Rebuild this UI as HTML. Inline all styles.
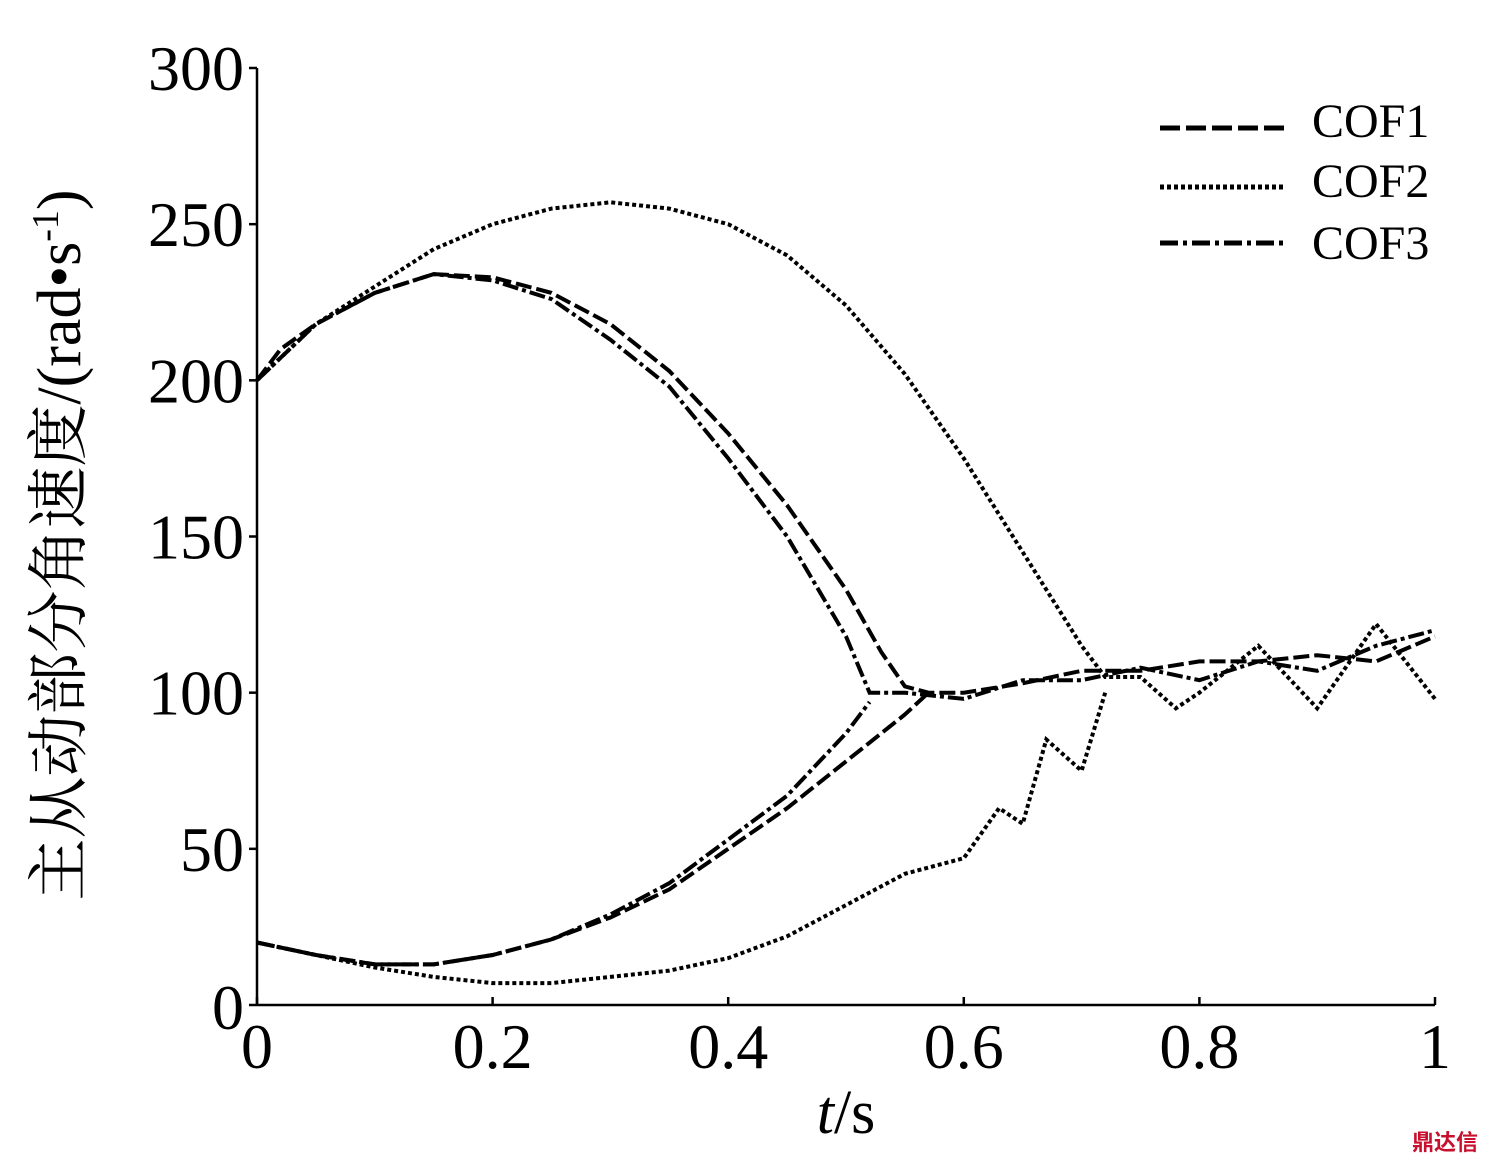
<!DOCTYPE html>
<html><head><meta charset="utf-8"><style>
body{margin:0;background:#fff;}
svg{display:block;}
text{font-family:"Liberation Serif","Noto Serif CJK SC",serif;fill:#000;}
</style></head><body>
<svg id="chart" width="1488" height="1165" viewBox="0 0 1488 1165">
<g id="axes"></g>
<g id="series"></g>
<text x="80" y="545" font-size="62" text-anchor="middle" transform="rotate(-90 80 545)">主从动部分角速度/(rad•s<tspan dy="-22" font-size="38">-1</tspan><tspan dy="22">)</tspan></text>
<text x="846" y="1133" font-size="62" text-anchor="middle"><tspan font-style="italic">t</tspan>/s</text>
<g>
<line x1="1160" y1="128" x2="1285" y2="128" stroke="#000" stroke-width="5" stroke-dasharray="20,6"/>
<text x="1312" y="137" font-size="48">COF1</text>
<line x1="1160" y1="187" x2="1285" y2="187" stroke="#000" stroke-width="5" stroke-dasharray="4,3"/>
<text x="1312" y="197" font-size="48">COF2</text>
<line x1="1160" y1="243" x2="1285" y2="243" stroke="#000" stroke-width="5" stroke-dasharray="18,5,4,5"/>
<text x="1312" y="259" font-size="48">COF3</text>
</g>
<text x="1478" y="1150" font-size="22" text-anchor="end" style="fill:#c8102e;font-weight:bold;font-family:'Noto Sans CJK SC',sans-serif">鼎达信</text>
</svg>
<script>
const xTicks=[0,0.2,0.4,0.6,0.8,1];
const xTickLabels=["0","0.2","0.4","0.6","0.8","1"];
const yTicks=[0,50,100,150,200,250,300];
const yTickLabels=["0","50","100","150","200","250","300"];
const cof1T=[0,.02,.05,.1,.15,.2,.25,.3,.35,.4,.45,.5,.53,.55,.57,.6,.65,.7,.75,.8,.85,.9,.95,1];
const cof1Up=[200,210,218,228,234,233,228,218,203,183,160,133,113,102,100,100,103,107,107,110,110,112,110,118];
const cof1LowT=[0,.05,.1,.15,.2,.25,.3,.35,.4,.45,.5,.55,.57];
const cof1Low=[20,16,13,13,16,21,28,37,50,63,78,93,100];
const cof2T=[0,.05,.1,.15,.2,.25,.3,.35,.4,.45,.5,.55,.6,.65,.7,.72,.75,.78,.8,.85,.9,.95,1];
const cof2Up=[200,218,230,242,250,255,257,255,250,240,224,202,175,145,115,105,105,95,100,115,95,122,98];
const cof2LowT=[0,.05,.1,.15,.2,.25,.3,.35,.4,.45,.5,.55,.6,.63,.65,.67,.7,.72];
const cof2Low=[20,16,12,9,7,7,9,11,15,22,32,42,47,63,58,85,75,100];
const cof3T=[0,.05,.1,.15,.2,.25,.3,.35,.4,.45,.5,.52,.55,.6,.65,.7,.75,.8,.85,.9,.95,1];
const cof3Up=[200,218,228,234,232,226,213,198,175,150,118,100,100,98,104,104,108,104,110,107,115,120];
const cof3LowT=[0,.05,.1,.15,.2,.25,.3,.35,.4,.45,.5,.52];
const cof3Low=[20,16,13,13,16,21,29,39,53,67,87,97];

const X0=257,X1=1435,Y0=1005,Y1=68;
const xs=t=>X0+t*(X1-X0);
const ys=v=>Y0-v/300*(Y0-Y1);
const NS="http://www.w3.org/2000/svg";
const axes=document.getElementById('axes');
function mk(tag,attrs,parent){const e=document.createElementNS(NS,tag);for(const k in attrs)e.setAttribute(k,attrs[k]);parent.appendChild(e);return e;}
let a=mk('line',{x1:X0,y1:Y1,x2:X0,y2:Y0,stroke:'#000','stroke-width':2.5},axes);


a=mk('line',{x1:X0,y1:Y0,x2:X1,y2:Y0,stroke:'#000','stroke-width':2.5},axes);


xTicks.forEach((t,i)=>{
 const l=mk('line',{x1:xs(t),y1:Y0,x2:xs(t),y2:Y0-8,stroke:'#000','stroke-width':2.5},axes);
 
 
 const tx=mk('text',{x:xs(t),y:1068,'font-size':64,'text-anchor':'middle'},axes);
 tx.textContent=xTickLabels[i];
 
 
});
yTicks.forEach((v,i)=>{
 const l=mk('line',{x1:X0-8,y1:ys(v),x2:X0,y2:ys(v),stroke:'#000','stroke-width':2.5},axes);
 
 
 const tx=mk('text',{x:244,y:ys(v)+(v===0?24:22),'font-size':64,'text-anchor':'end'},axes);
 tx.textContent=yTickLabels[i];
 
 
});
const sg=document.getElementById('series');
function path(T,V,dash,name){
 const d=T.map((t,i)=>(i?'L':'M')+xs(t).toFixed(1)+','+ys(V[i]).toFixed(1)).join('');
 const p=mk('path',{d:d,fill:'none',stroke:'#000','stroke-width':4,'stroke-dasharray':dash},sg);
 
 
}
path(cof1T,cof1Up,'16,5','cof1-driving-line');
path(cof1LowT,cof1Low,'16,5','cof1-driven-line');
path(cof2T,cof2Up,'4,3','cof2-driving-line');
path(cof2LowT,cof2Low,'4,3','cof2-driven-line');
path(cof3T,cof3Up,'16,4,4,4','cof3-driving-line');
path(cof3LowT,cof3Low,'16,4,4,4','cof3-driven-line');
</script>
</body></html>
